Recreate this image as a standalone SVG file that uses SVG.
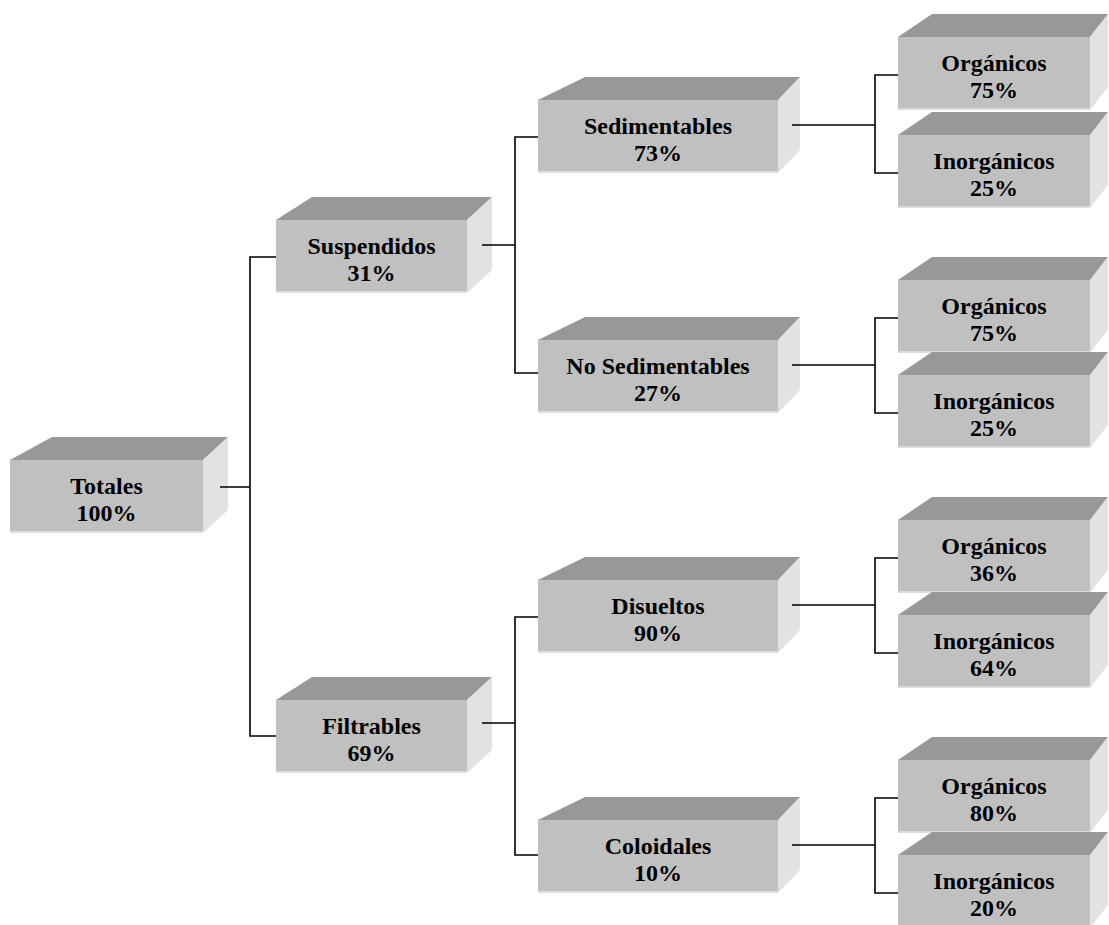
<svg xmlns="http://www.w3.org/2000/svg" xmlns:xlink="http://www.w3.org/1999/xlink" width="1109" height="925" viewBox="0 0 1109 925">
  <style>
    .front { fill: #c0c0c0; }
    .top { fill: #989898; }
    .side { fill: #e2e2e2; }
    .edge { stroke: #dcdcdc; stroke-width: 2; }
    .lbl { font-family: "Liberation Serif", "Times New Roman", serif; font-weight: bold; font-size: 24px; fill: #000; text-anchor: middle; }
    .conn { fill: none; stroke: #000; stroke-width: 1.6; }
  </style>
  <defs>
    <!-- extruded box shapes, front face anchored at (0,0) -->
    <g id="box-t">
      <polygon class="top" points="0,0 42,-23 218,-23 193,0"/>
      <polygon class="side" points="193,0 218,-23 218,50 193,73"/>
      <rect class="front" x="0" y="0" width="193" height="73"/>
      <line class="edge" x1="0" y1="72" x2="193" y2="72"/>
    </g>
    <g id="box-a">
      <polygon class="top" points="0,0 36,-23 216,-23 191,0"/>
      <polygon class="side" points="191,0 216,-23 216,50 191,73"/>
      <rect class="front" x="0" y="0" width="191" height="73"/>
      <line class="edge" x1="0" y1="72" x2="191" y2="72"/>
    </g>
    <g id="box-b">
      <polygon class="top" points="0,0 47,-23 262,-23 240,0"/>
      <polygon class="side" points="240,0 262,-23 262,50 240,73"/>
      <rect class="front" x="0" y="0" width="240" height="73"/>
      <line class="edge" x1="0" y1="72" x2="240" y2="72"/>
    </g>
    <g id="box-c">
      <polygon class="top" points="0,0 34,-23 210,-23 192,0"/>
      <polygon class="side" points="192,0 210,-23 210,50 192,73"/>
      <rect class="front" x="0" y="0" width="192" height="73"/>
      <line class="edge" x1="0" y1="72" x2="192" y2="72"/>
    </g>
  </defs>

  <!-- level 0 -->
  <g id="totales" transform="translate(10,460)">
    <use xlink:href="#box-t"/>
    <text class="lbl" x="96.5" y="34">Totales</text>
    <text class="lbl" x="96.5" y="61">100%</text>
  </g>

  <!-- level 1 -->
  <g id="suspendidos" transform="translate(276,220)">
    <use xlink:href="#box-a"/>
    <text class="lbl" x="95.5" y="34">Suspendidos</text>
    <text class="lbl" x="95.5" y="61">31%</text>
  </g>
  <g id="filtrables" transform="translate(276,700)">
    <use xlink:href="#box-a"/>
    <text class="lbl" x="95.5" y="34">Filtrables</text>
    <text class="lbl" x="95.5" y="61">69%</text>
  </g>

  <!-- level 2 -->
  <g id="sedimentables" transform="translate(538,100)">
    <use xlink:href="#box-b"/>
    <text class="lbl" x="120" y="34">Sedimentables</text>
    <text class="lbl" x="120" y="61">73%</text>
  </g>
  <g id="no-sedimentables" transform="translate(538,340)">
    <use xlink:href="#box-b"/>
    <text class="lbl" x="120" y="34">No Sedimentables</text>
    <text class="lbl" x="120" y="61">27%</text>
  </g>
  <g id="disueltos" transform="translate(538,580)">
    <use xlink:href="#box-b"/>
    <text class="lbl" x="120" y="34">Disueltos</text>
    <text class="lbl" x="120" y="61">90%</text>
  </g>
  <g id="coloidales" transform="translate(538,820)">
    <use xlink:href="#box-b"/>
    <text class="lbl" x="120" y="34">Coloidales</text>
    <text class="lbl" x="120" y="61">10%</text>
  </g>

  <!-- level 3 -->
  <g id="sed-organicos" transform="translate(898,37)">
    <use xlink:href="#box-c"/>
    <text class="lbl" x="96" y="34">Orgánicos</text>
    <text class="lbl" x="96" y="61">75%</text>
  </g>
  <g id="sed-inorganicos" transform="translate(898,135)">
    <use xlink:href="#box-c"/>
    <text class="lbl" x="96" y="34">Inorgánicos</text>
    <text class="lbl" x="96" y="61">25%</text>
  </g>
  <g id="nosed-organicos" transform="translate(898,280)">
    <use xlink:href="#box-c"/>
    <text class="lbl" x="96" y="34">Orgánicos</text>
    <text class="lbl" x="96" y="61">75%</text>
  </g>
  <g id="nosed-inorganicos" transform="translate(898,375)">
    <use xlink:href="#box-c"/>
    <text class="lbl" x="96" y="34">Inorgánicos</text>
    <text class="lbl" x="96" y="61">25%</text>
  </g>
  <g id="dis-organicos" transform="translate(898,520)">
    <use xlink:href="#box-c"/>
    <text class="lbl" x="96" y="34">Orgánicos</text>
    <text class="lbl" x="96" y="61">36%</text>
  </g>
  <g id="dis-inorganicos" transform="translate(898,615)">
    <use xlink:href="#box-c"/>
    <text class="lbl" x="96" y="34">Inorgánicos</text>
    <text class="lbl" x="96" y="61">64%</text>
  </g>
  <g id="col-organicos" transform="translate(898,760)">
    <use xlink:href="#box-c"/>
    <text class="lbl" x="96" y="34">Orgánicos</text>
    <text class="lbl" x="96" y="61">80%</text>
  </g>
  <g id="col-inorganicos" transform="translate(898,855)">
    <use xlink:href="#box-c"/>
    <text class="lbl" x="96" y="34">Inorgánicos</text>
    <text class="lbl" x="96" y="61">20%</text>
  </g>

  <!-- bracket connectors -->
  <g id="connectors" class="conn">
    <path d="M220,487 H250 M276,257 H250 V736 H276"/>
    <path d="M482,245 H515 M538,137 H515 V373 H538"/>
    <path d="M482,723 H515 M538,617 H515 V855 H538"/>
    <path d="M792,125 H875 M898,75 H875 V173 H898"/>
    <path d="M792,365 H875 M898,318 H875 V413 H898"/>
    <path d="M792,605 H875 M898,558 H875 V653 H898"/>
    <path d="M792,845 H875 M898,798 H875 V893 H898"/>
  </g>
</svg>
